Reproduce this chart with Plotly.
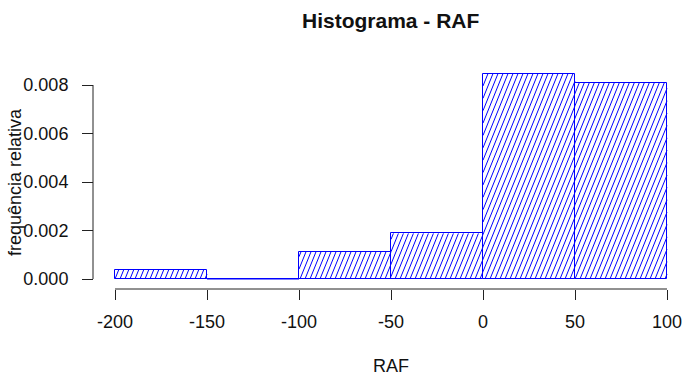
import math
import plotly.graph_objects as go

# Histogram of RAF: relative frequency density per class of width 50
bin_edges = [-200, -150, -100, -50, 0, 50, 100]
densities = [0.00038, 0.0, 0.00112, 0.00188, 0.00847, 0.00809]

x_ticks = [-200, -150, -100, -50, 0, 50, 100]
x_tick_labels = ["-200", "-150", "-100", "-50", "0", "50", "100"]
y_ticks = [0.000, 0.002, 0.004, 0.006, 0.008]
y_tick_labels = ["0.000", "0.002", "0.004", "0.006", "0.008"]

title_text = "Histograma - RAF"
x_title = "RAF"
y_title = "frequência relativa"

# ---- page geometry (pixels) ----
W, H = 683, 378
X_PX = (115, 667)        # pixel columns of the first / last x tick
Y_PX = (279, 85)         # pixel rows of the first / last y tick
X_AXIS_ROW = 289         # row of the x axis line
Y_AXIS_COL = 93          # column of the y axis line

x_per_px = (x_ticks[-1] - x_ticks[0]) / (X_PX[1] - X_PX[0])
y_per_px = (y_ticks[-1] - y_ticks[0]) / (Y_PX[0] - Y_PX[1])
x_range = [x_ticks[0] - X_PX[0] * x_per_px, x_ticks[-1] + (W - X_PX[1]) * x_per_px]
y_range = [y_ticks[0] - (H - Y_PX[0]) * y_per_px, y_ticks[-1] + Y_PX[1] * y_per_px]

BLUE = "#0000FF"
AXIS_COL = "#222222"
FONT = "Liberation Sans, Arial, sans-serif"

centers = [(a + b) / 2 for a, b in zip(bin_edges[:-1], bin_edges[1:])]
widths = [b - a for a, b in zip(bin_edges[:-1], bin_edges[1:])]

# ---- shading lines inside each bar (computed in pixel space) ----
HATCH_ANGLE = 68.0       # degrees
HATCH_STEP = 5.0         # horizontal spacing between lines, px
tan_a = math.tan(math.radians(HATCH_ANGLE))

hx, hy = [], []
for a, b, d in zip(bin_edges[:-1], bin_edges[1:], densities):
    if d <= 0:
        continue
    px0 = (a - x_range[0]) / x_per_px
    px1 = (b - x_range[0]) / x_per_px
    ph = d / y_per_px                      # bar height in px
    c = px0 - ph / tan_a
    c = math.floor(c / HATCH_STEP) * HATCH_STEP
    while c <= px1:
        ylo = max(0.0, (px0 - c) * tan_a)
        yhi = min(ph, (px1 - c) * tan_a)
        if yhi > ylo:
            for yy in (ylo, yhi):
                xx = c + yy / tan_a
                hx.append(x_range[0] + xx * x_per_px)
                hy.append(yy * y_per_px)
            hx.append(None)
            hy.append(None)
        c += HATCH_STEP

# zero-height classes still show their border along the baseline
zx, zy = [], []
for a, b, d in zip(bin_edges[:-1], bin_edges[1:], densities):
    if d <= 0:
        zx += [a, b, None]
        zy += [0, 0, None]

fig = go.Figure()
fig.add_trace(go.Bar(
    x=centers, y=densities, width=widths,
    marker=dict(color="white", line=dict(color=BLUE, width=1)),
    hoverinfo="skip", showlegend=False,
))
fig.add_trace(go.Scatter(
    x=hx, y=hy, mode="lines",
    line=dict(color=BLUE, width=1),
    hoverinfo="skip", showlegend=False,
))
fig.add_trace(go.Scatter(
    x=zx, y=zy, mode="lines",
    line=dict(color=BLUE, width=1),
    hoverinfo="skip", showlegend=False,
))

# axis lines spanning only the tick range
fig.add_shape(type="line", xref="x", yref="paper",
              x0=x_ticks[0], x1=x_ticks[-1],
              y0=1 - X_AXIS_ROW / H, y1=1 - X_AXIS_ROW / H,
              line=dict(color=AXIS_COL, width=1))
fig.add_shape(type="line", xref="paper", yref="y",
              x0=Y_AXIS_COL / W, x1=Y_AXIS_COL / W,
              y0=y_ticks[0], y1=y_ticks[-1],
              line=dict(color=AXIS_COL, width=1))

fig.update_layout(
    width=W, height=H,
    margin=dict(l=0, r=0, t=0, b=0),
    paper_bgcolor="white", plot_bgcolor="white",
    bargap=0,
    font=dict(family=FONT, size=18, color="#111111"),
    xaxis=dict(
        range=x_range, domain=[0, 1],
        anchor="free", position=1 - X_AXIS_ROW / H,
        tickmode="array", tickvals=x_ticks, ticktext=x_tick_labels,
        ticks="outside", ticklen=10, tickwidth=1, tickcolor=AXIS_COL,
        ticklabelstandoff=6,
        showline=False, showgrid=False, zeroline=False,
        automargin=False, fixedrange=True,
    ),
    yaxis=dict(
        range=y_range, domain=[0, 1],
        anchor="free", position=Y_AXIS_COL / W,
        tickmode="array", tickvals=y_ticks, ticktext=y_tick_labels,
        ticks="outside", ticklen=11, tickwidth=1, tickcolor=AXIS_COL,
        ticklabelstandoff=10,
        showline=False, showgrid=False, zeroline=False,
        automargin=False, fixedrange=True,
    ),
    annotations=[
        dict(text="<b>" + title_text + "</b>", x=391 / W, y=1 - 20 / H,
             xref="paper", yref="paper", xanchor="center", yanchor="middle",
             showarrow=False, font=dict(size=21, color="#111111")),
        dict(text=x_title, x=391 / W, y=1 - 366 / H,
             xref="paper", yref="paper", xanchor="center", yanchor="middle",
             showarrow=False, font=dict(size=18, color="#111111")),
        dict(text=y_title, x=15 / W, y=1 - 182 / H, textangle=-90,
             xref="paper", yref="paper", xanchor="center", yanchor="middle",
             showarrow=False, font=dict(size=18, color="#111111")),
    ],
)

fig.write_html("out.html")
